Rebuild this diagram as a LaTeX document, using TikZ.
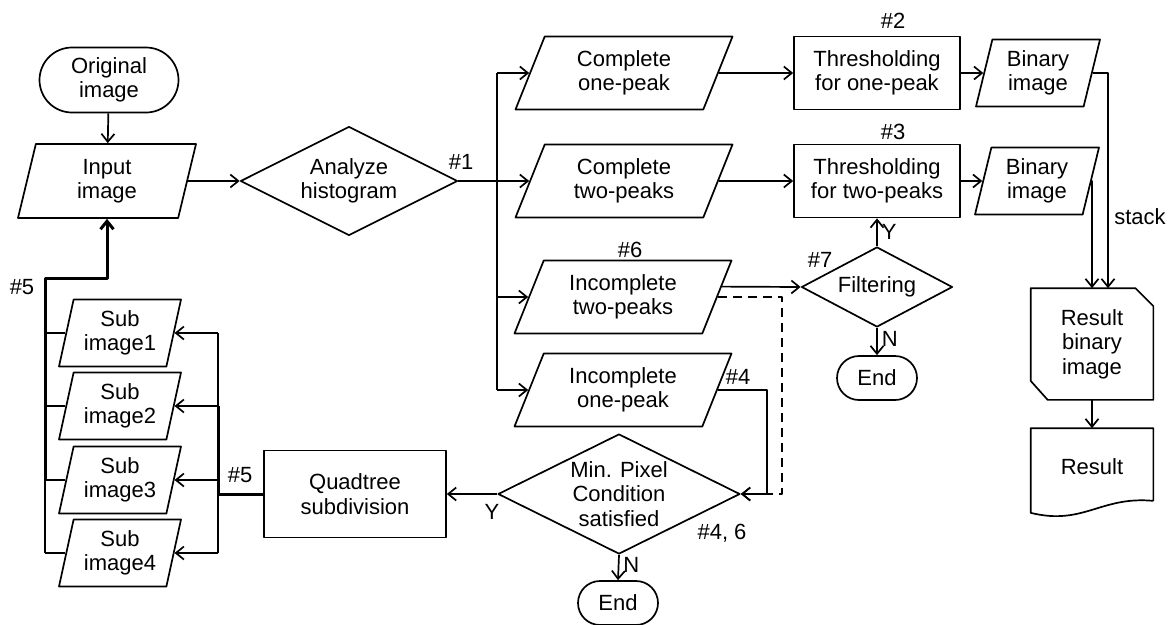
\documentclass[tikz,border=0pt]{standalone}
\usepackage{fontspec}
\setmainfont{Liberation Sans}
\usetikzlibrary{shapes.geometric,shapes.misc,arrows.meta}

\tikzset{
  box/.style={draw, rectangle, align=center, inner sep=0pt},
  io/.style 2 args={draw, trapezium, trapezium left angle=#1, trapezium right angle=#2,
    trapezium stretches body, align=center, inner sep=0pt},
  decide/.style={draw, diamond, aspect=2, align=center, inner sep=0pt},
  term/.style={draw, rounded rectangle, align=center, inner sep=0pt},
  tag/.style={inner sep=1pt},
  bus/.style={line width=3pt},
  dash line/.style={dash pattern=on 9pt off 6pt},
}

\begin{document}
\begin{tikzpicture}[x=1pt, y=-1pt, line width=1.7pt, line join=round,
  font=\fontsize{22}{24.5}\selectfont, >={Straight Barb[length=8pt,width=13pt]}]
\useasboundingbox (0,0) rectangle (1172,624);

\node[term, minimum width=139, minimum height=65] (orig) at (109,80) {Original\\image};
\node[io={68}{112}, minimum width=178, minimum height=74] (inp) at (107,181) {Input\\image};
\node[decide, minimum width=217, minimum height=109] (hist) at (349,181) {Analyze\\histogram};

\node[io={57}{123}, minimum width=217, minimum height=73] (c1) at (624,73) {Complete\\one-peak};
\node[io={57}{123}, minimum width=217, minimum height=73] (c2) at (624,181) {Complete\\two-peaks};
\node[io={57}{123}, minimum width=217, minimum height=73] (i2) at (623,297) {Incomplete\\two-peaks};
\node[io={57}{123}, minimum width=217, minimum height=73] (i1) at (623,390) {Incomplete\\one-peak};

\node[box, minimum width=166, minimum height=73] (t1) at (877,73) {Thresholding\\for one-peak};
\node[box, minimum width=166, minimum height=73] (t2) at (877,181) {Thresholding\\for two-peaks};
\node[io={70}{110}, minimum width=124, minimum height=67] (b1) at (1038,73) {Binary\\image};
\node[io={70}{110}, minimum width=124, minimum height=67] (b2) at (1037,181) {Binary\\image};

\node[decide, minimum width=151, minimum height=80] (filt) at (877,287) {Filtering};
\node[term, minimum width=80, minimum height=44] (end1) at (877,378) {End};

\node[align=center, inner sep=0pt, minimum width=121, minimum height=110] (rb) at (1092,344) {Result\\binary\\image};
\draw (rb.north west) -- ([xshift=-18pt]rb.north east) -- ([yshift=-18pt]rb.north east)
  -- (rb.south east) -- ([xshift=17pt]rb.south west) -- ([yshift=19pt]rb.south west) -- cycle;
\node[minimum width=121, minimum height=76, inner sep=0pt] (res) at (1092,467) {Result};
\draw (res.south east) ++(0,5pt) -- (res.north east) -- (res.north west) -- ([yshift=-7pt]res.south west)
  .. controls ([xshift=53pt,yshift=-20pt]res.south west) and ([xshift=-53pt,yshift=10pt]res.south east)
  .. ([yshift=5pt]res.south east);

\node[decide, minimum width=242, minimum height=120] (mn) at (619,494) {Min. Pixel\\Condition\\satisfied};
\node[term, minimum width=80, minimum height=44] (end2) at (618,603) {End};
\node[box, minimum width=182, minimum height=87] (quad) at (355,494) {Quadtree\\subdivision};

\foreach \i/\y in {1/333,2/406,3/480,4/553}
  \node[io={72}{108}, minimum width=122, minimum height=67] (s\i) at (120,\y) {Sub\\image\i};

\coordinate (br) at (497,181);
\coordinate (qb) at (218,494);
\coordinate (lb) at (45,278);

% main flow
\draw[->] (orig) -- (inp);
\draw[->] (inp.east) -- (hist.west);
\draw (hist.east) -- (br);
\draw (c1.west -| br) -- (i1.west -| br);
\foreach \n in {c1,c2,i2,i1}
  \draw[->] (\n.west -| br) -- (\n.west);
\draw[->] (c1.east) -- (t1.west);
\draw[->] (c2.east) -- (t2.west);
\draw[->] (t1.east) -- (b1.west);
\draw[->] (t2.east) -- (b2.west);
\draw[->] (b1.east) -| ([xshift=16pt]rb.north);
\draw[->] (b2.east) -| (rb.north);
\draw[->] (rb.south) -- (res.north);

% incomplete cases
\draw[->] (i2.6) -- (filt.west);
\draw[->] (filt.north) -- (t2.south) node[tag, pos=0.5, right=3pt] {Y};
\draw[->] (filt.south) -- (end1.north) node[tag, pos=0.4, right=3pt] {N};
\draw[dash line, ->] (i2.east) -| ([xshift=41pt]mn.east) -- (mn.east);
\draw[->] (i1.east) -| ([xshift=26pt]mn.east) -- (mn.east);
\draw[->] (mn.south) -- (end2.north) node[tag, pos=0.4, right=3pt] {N};
\draw[->] (mn.west) -- (quad.east);

% subdivision
\draw[bus] (quad.west) -- (qb);
\draw (qb |- s1.east) -- (qb |- s4.east);
\draw[bus] (qb |- s2.east) -- (qb);
\foreach \i in {1,...,4}
  \draw[->] (qb |- s\i.east) -- (s\i.east);
\foreach \i in {1,...,4}
  \draw (s\i.west) -- (s\i.west -| lb);
\draw (lb |- s3.west) -- (lb |- s4.west);
\draw[bus, ->] (lb |- s3.west) -- (lb) -| (inp.south);

% tags
\node[tag] (n1) at (461,162) {\#1};
\node[tag] (n2) at (893,21) {\#2};
\node[tag] (n3) at (893,132) {\#3};
\node[tag] (n6) at (630,250) {\#6};
\node[tag] (n7) at (820,260) {\#7};
\node[tag] (n4) at (738,377) {\#4};
\node[tag] (n46) at (722,533) {\#4, 6};
\node[tag] (n5a) at (22,287) {\#5};
\node[tag] (n5b) at (240,475) {\#5};
\node[tag] (ymn) at (492,512) {Y};
\node[tag] (stk) at (1140,217) {stack};
\end{tikzpicture}
\end{document}
